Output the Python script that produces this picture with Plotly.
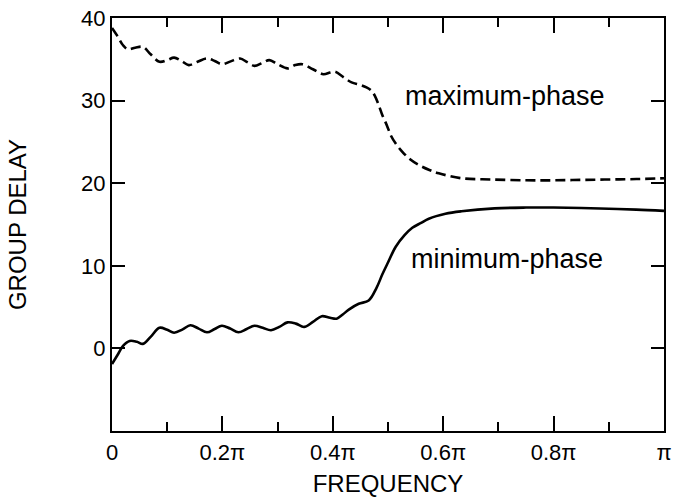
import plotly.graph_objects as go

# Frequency in units of pi
freq_min = [0.000, 0.010, 0.020, 0.032, 0.045, 0.056, 0.070, 0.086, 0.100, 0.1125,
            0.128, 0.142, 0.157, 0.172, 0.186, 0.199, 0.214, 0.229, 0.244, 0.258,
            0.273, 0.288, 0.303, 0.318, 0.333, 0.348, 0.364, 0.380, 0.395, 0.407,
            0.418, 0.429, 0.447, 0.465, 0.479, 0.490, 0.500, 0.514, 0.530, 0.544,
            0.560, 0.574, 0.604, 0.633, 0.693, 0.750, 0.800, 0.850, 0.900, 0.950, 1.000]
min_phase = [-1.9, -0.8, 0.3, 0.9, 0.8, 0.55, 1.4, 2.5, 2.25, 1.9,
             2.3, 2.8, 2.4, 1.95, 2.35, 2.75, 2.4, 1.95, 2.35, 2.75,
             2.5, 2.2, 2.6, 3.15, 3.0, 2.6, 3.2, 3.9, 3.7, 3.6,
             4.1, 4.7, 5.4, 5.8, 7.3, 9.0, 10.4, 12.3, 13.7, 14.6,
             15.2, 15.7, 16.3, 16.6, 16.95, 17.05, 17.05, 17.0, 16.9, 16.8, 16.65]

freq_max = [0.000, 0.010, 0.020, 0.029, 0.042, 0.056, 0.070, 0.086, 0.100, 0.1125,
            0.126, 0.139, 0.155, 0.172, 0.186, 0.199, 0.215, 0.232, 0.245, 0.258,
            0.272, 0.285, 0.300, 0.318, 0.332, 0.345, 0.364, 0.383, 0.395, 0.404,
            0.420, 0.434, 0.450, 0.461, 0.470, 0.476, 0.483, 0.490, 0.498, 0.505,
            0.515, 0.526, 0.540, 0.556, 0.575, 0.592, 0.633, 0.687, 0.750, 0.800,
            0.850, 0.900, 0.950, 1.000]
max_phase = [38.8, 37.8, 36.7, 36.2, 36.4, 36.5, 35.6, 34.7, 34.9, 35.2,
             34.8, 34.3, 34.7, 35.1, 34.8, 34.4, 34.75, 35.1, 34.65, 34.2,
             34.55, 34.9, 34.4, 33.9, 34.3, 34.4, 33.8, 33.2, 33.4, 33.5,
             32.8, 32.2, 31.9, 31.6, 31.2, 30.6, 29.5, 28.2, 27.0, 25.8,
             24.7, 23.8, 22.9, 22.2, 21.6, 21.2, 20.6, 20.45, 20.35, 20.35,
             20.4, 20.45, 20.5, 20.6]

x_tickvals = [0, 0.2, 0.4, 0.6, 0.8, 1.0]
x_minorvals = [0.1, 0.3, 0.5, 0.7, 0.9]
x_ticktext = ["0", "0.2\u03c0", "0.4\u03c0", "0.6\u03c0", "0.8\u03c0", "\u03c0"]
y_tickvals = [0, 10, 20, 30, 40]

FONT = "Liberation Sans, Arial, sans-serif"

fig = go.Figure()
fig.add_trace(go.Scatter(x=freq_max, y=max_phase, mode="lines", line_shape="spline",
                         line=dict(color="black", width=2.6, dash="10px,5px"),
                         showlegend=False))
fig.add_trace(go.Scatter(x=freq_min, y=min_phase, mode="lines", line_shape="spline",
                         line=dict(color="black", width=2.6), showlegend=False))
# invisible trace to anchor the top axis
fig.add_trace(go.Scatter(x=[0, 1], y=[None, None], xaxis="x2", mode="lines",
                         showlegend=False, hoverinfo="skip"))

fig.add_annotation(x=0.7125, y=30.5, text="maximum-phase", showarrow=False,
                   font=dict(size=27, color="black", family=FONT))
fig.add_annotation(x=0.716, y=10.8, text="minimum-phase", showarrow=False,
                   font=dict(size=27, color="black", family=FONT))

tick_common = dict(ticks="inside", tickwidth=1.5, tickcolor="black",
                   showgrid=False, zeroline=False)

fig.update_layout(
    width=678, height=503,
    margin=dict(l=112, r=6, t=17, b=72),
    paper_bgcolor="white", plot_bgcolor="white",
    font=dict(family=FONT, color="black"),
    xaxis=dict(range=[0, 1], tickvals=x_tickvals, ticktext=x_ticktext,
               ticklen=15, showline=True, linecolor="black", linewidth=2, mirror=True,
               tickfont=dict(size=22, family=FONT), ticklabelstandoff=1,
               minor=dict(tickvals=x_minorvals, ticks="inside",
                          ticklen=9, tickwidth=1.5, tickcolor="black", showgrid=False),
               title=dict(text="FREQUENCY", font=dict(size=24, family=FONT), standoff=11),
               **tick_common),
    xaxis2=dict(range=[0, 1], overlaying="x", side="top", tickvals=x_tickvals,
                showticklabels=False, ticklen=15,
                minor=dict(tickvals=x_minorvals, ticks="inside",
                           ticklen=9, tickwidth=1.5, tickcolor="black", showgrid=False),
                **tick_common),
    yaxis=dict(range=[-10, 40], tickvals=y_tickvals,
               ticklen=13, showline=True, linecolor="black", linewidth=2, mirror="ticks",
               tickfont=dict(size=22, family=FONT),
               title=dict(text="GROUP DELAY", font=dict(size=24, family=FONT), standoff=48),
               **tick_common),
)

fig.write_html("out.html")
